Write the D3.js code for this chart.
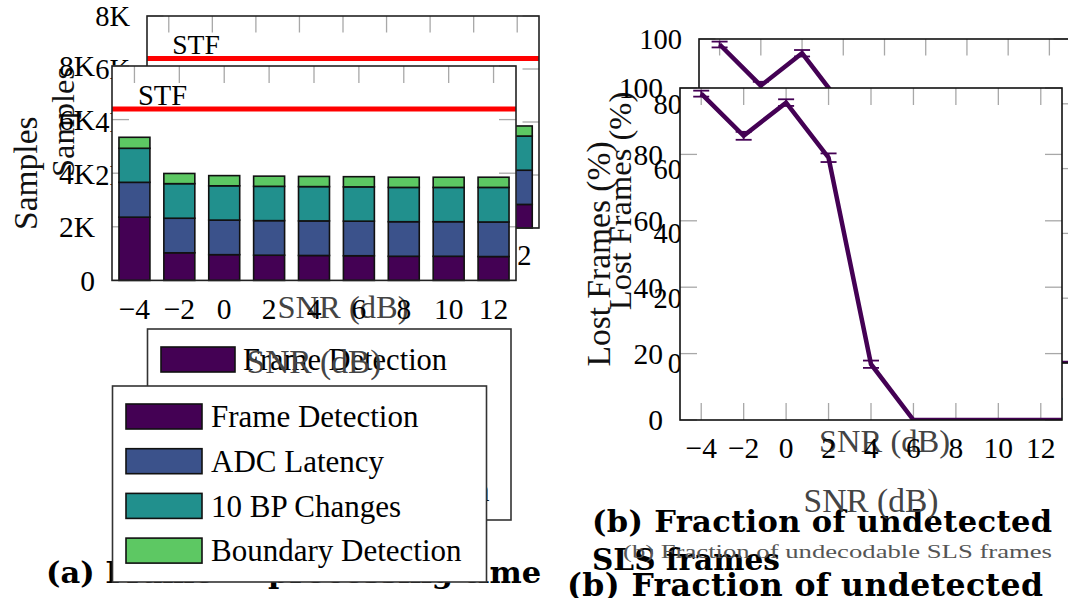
<!DOCTYPE html>
<html>
<head>
<meta charset="utf-8">
<script src="https://cdnjs.cloudflare.com/ajax/libs/d3/7.8.5/d3.min.js"></script>
<style>
  body { margin: 0; background: #fff; }
  svg { display: block; }
  text { font-family: "Liberation Serif", "DejaVu Serif", serif; }
  .cap { font-family: "DejaVu Serif", serif; font-weight: bold; }
</style>
</head>
<body>
<div id="chart"></div>
<script>
// processing time per SNR (samples)
var snr = [-4, -2, 0, 2, 4, 6, 8, 10, 12];
var frameDetection = [2360, 1030, 960, 940, 930, 920, 900, 900, 890];
var adcLatency = [1300, 1290, 1290, 1290, 1290, 1290, 1290, 1290, 1290];
var bpChanges = [1270, 1290, 1280, 1280, 1280, 1280, 1280, 1280, 1290];
var boundaryDetection = [410, 380, 380, 380, 380, 380, 380, 380, 380];
var stfSamples = 6400;
var seriesNames = ['Frame Detection', 'ADC Latency', '10 BP Changes', 'Boundary Detection'];
var seriesColors = ['#440154', '#3b528b', '#21908d', '#5dc863'];

// lost frames per SNR (%)
var lossSnr = [-4, -2, 0, 2, 4, 6, 8, 10, 12, 14];
var lostFrames = [98.3, 85.6, 95.6, 79.0, 16.8, 0, 0, 0, 0, 0];
var lostErr = [0.9, 1.2, 1.0, 1.3, 1.1, 0, 0, 0, 0, 0];

var xTicks = [-4, -2, 0, 2, 4, 6, 8, 10, 12];
var samplesTicks = [0, 2000, 4000, 6000, 8000];
var samplesLabels = ['0', '2K', '4K', '6K', '8K'];
var lostTicks = [0, 20, 40, 60, 80, 100];

var W = 1068, H = 598;
var svg = d3.select('#chart').append('svg').attr('width', W).attr('height', H);

var rows = snr.map(function(s, i) {
  return { snr: s, fd: frameDetection[i], adc: adcLatency[i], bp: bpChanges[i], bd: boundaryDetection[i] };
});
var stack = d3.stack().keys(['fd', 'adc', 'bp', 'bd'])(rows);

// the figure shows up twice: a shifted copy behind and the main one in front
var layers = [
  {
    a: { left: 147, right: 539, top: 16, bottom: 228 },
    b: { left: 699, right: 1070, top: 39, bottom: 363 },
    fs: 28.5, lab: 32.5, tick: 16.5, k: 0.97,
    legend: { x: 147.5, y: 329, w: 363.5, h: 191, sw: 74, sh: 25, row: 43.5, first: 18, tx: 95.5, fs: 30.5 },
    capA: { x: 46, y: 583, px: 268 },
    capB: { x: 592, y: 532, len: 460, y2: 570, len2: 188 },
    capFs: 30.5
  },
  {
    a: { left: 112, right: 516, top: 66, bottom: 280.4 },
    b: { left: 680, right: 1062, top: 88, bottom: 420 },
    fs: 29.5, lab: 33.5, tick: 17, k: 1,
    legend: { x: 112.5, y: 386, w: 374, h: 196, sw: 76, sh: 25, row: 44.7, first: 18, tx: 98.5, fs: 31 },
    capA: { x: 12, y: 642, px: 240 },
    capB: { x: 567, y: 596, len: 476, y2: 636, len2: 194 },
    capFs: 31.5
  }
];

function fmtSnr(d) { return d < 0 ? '\u2212' + Math.abs(d) : String(d); }

function drawLayer(L, idx) {
  var g = svg.append('g');

  // ---------- (a) stacked bars ----------
  var A = L.a;
  var xa = d3.scaleLinear().domain([-5, 13]).range([A.left, A.right]);
  var ya = d3.scaleLinear().domain([0, 8000]).range([A.bottom, A.top]);
  var barW = (xa(2) - xa(0)) * 0.69;

  g.append('rect').attr('x', A.left).attr('y', A.top)
    .attr('width', A.right - A.left).attr('height', A.bottom - A.top).attr('fill', '#fff');

  var ticksA = g.append('g').attr('stroke', '#a8a8a8').attr('stroke-width', 1.3);
  xTicks.forEach(function(t) {
    ticksA.append('line').attr('x1', xa(t)).attr('x2', xa(t)).attr('y1', A.top).attr('y2', A.top + L.tick);
    ticksA.append('line').attr('x1', xa(t)).attr('x2', xa(t)).attr('y1', A.bottom).attr('y2', A.bottom - L.tick);
  });
  samplesTicks.forEach(function(t) {
    ticksA.append('line').attr('x1', A.left).attr('x2', A.left + L.tick).attr('y1', ya(t)).attr('y2', ya(t));
    ticksA.append('line').attr('x1', A.right).attr('x2', A.right - L.tick).attr('y1', ya(t)).attr('y2', ya(t));
  });

  g.append('line').attr('x1', A.left).attr('x2', A.right)
    .attr('y1', ya(stfSamples)).attr('y2', ya(stfSamples))
    .attr('stroke', '#ff0000').attr('stroke-width', 5);
  g.append('text').attr('x', A.left + 26 * L.k).attr('y', ya(stfSamples) - 4)
    .attr('font-size', 28.5 * L.k).text('STF');

  stack.forEach(function(s, si) {
    g.append('g').selectAll('rect').data(s).join('rect')
      .attr('x', function(d) { return xa(d.data.snr) - barW / 2; })
      .attr('y', function(d) { return ya(d[1]); })
      .attr('width', barW)
      .attr('height', function(d) { return ya(d[0]) - ya(d[1]); })
      .attr('fill', seriesColors[si])
      .attr('stroke', '#111').attr('stroke-width', 1.6);
  });

  g.append('rect').attr('x', A.left).attr('y', A.top)
    .attr('width', A.right - A.left).attr('height', A.bottom - A.top)
    .attr('fill', 'none').attr('stroke', '#222').attr('stroke-width', 1.6);

  g.append('g').selectAll('text').data(samplesTicks).join('text')
    .attr('x', A.left - 17).attr('y', function(d) { return ya(d); })
    .attr('dy', '0.35em').attr('text-anchor', 'end').attr('font-size', L.fs)
    .text(function(d, i) { return samplesLabels[i]; });
  g.append('g').selectAll('text').data(xTicks).join('text')
    .attr('x', function(d) { return xa(d); }).attr('y', A.bottom + 28 * L.k)
    .attr('dy', '0.35em').attr('text-anchor', 'middle').attr('font-size', L.fs)
    .text(fmtSnr);

  g.append('text').attr('transform', 'translate(' + (A.left - 87 * L.k) + ',' + ((A.top + A.bottom) / 2) + ') rotate(-90)')
    .attr('text-anchor', 'middle').attr('dy', '0.35em').attr('font-size', L.lab).attr('fill', '#111').text('Samples');
  g.append('text').attr('x', (A.left + A.right) / 2).attr('y', A.bottom + 81 * L.k)
    .attr('text-anchor', 'middle').attr('dy', '0.35em').attr('font-size', L.lab).attr('fill', '#444').text('SNR (dB)');

  // legend
  var lg = L.legend;
  var leg = g.append('g').attr('transform', 'translate(' + lg.x + ',' + lg.y + ')');
  leg.append('rect').attr('width', lg.w).attr('height', lg.h)
    .attr('fill', '#fff').attr('stroke', '#333').attr('stroke-width', 1.6);
  seriesNames.forEach(function(name, i) {
    var ry = lg.first + i * lg.row;
    leg.append('rect').attr('x', 13.5).attr('y', ry).attr('width', lg.sw).attr('height', lg.sh)
      .attr('fill', seriesColors[i]).attr('stroke', '#111').attr('stroke-width', 1.6);
    leg.append('text').attr('x', lg.tx).attr('y', ry + lg.sh / 2).attr('dy', '0.35em')
      .attr('font-size', lg.fs).text(name);
  });

  // caption (a) sits under the legend box
  var capA = g.insert('text', function() { return leg.node(); })
    .attr('class', 'cap').attr('y', L.capA.y).attr('font-size', L.capFs);
  capA.append('tspan').attr('x', L.capA.x).text('(a) Frame');
  capA.append('tspan').attr('x', L.capA.px).text('processing time');

  // ---------- (b) lost frames ----------
  var B = L.b;
  var xb = d3.scaleLinear().domain([-5, 13]).range([B.left, B.right]);
  var yb = d3.scaleLinear().domain([0, 100]).range([B.bottom, B.top]);
  var clipId = 'clipb' + idx;
  g.append('clipPath').attr('id', clipId).append('rect')
    .attr('x', B.left).attr('y', B.top).attr('width', B.right - B.left).attr('height', B.bottom - B.top);

  g.append('rect').attr('x', B.left).attr('y', B.top)
    .attr('width', B.right - B.left).attr('height', B.bottom - B.top).attr('fill', '#fff');

  var ticksB = g.append('g').attr('stroke', '#a8a8a8').attr('stroke-width', 1.3);
  xTicks.forEach(function(t) {
    ticksB.append('line').attr('x1', xb(t)).attr('x2', xb(t)).attr('y1', B.top).attr('y2', B.top + L.tick);
    ticksB.append('line').attr('x1', xb(t)).attr('x2', xb(t)).attr('y1', B.bottom).attr('y2', B.bottom - L.tick);
  });
  lostTicks.forEach(function(t) {
    ticksB.append('line').attr('x1', B.left).attr('x2', B.left + L.tick).attr('y1', yb(t)).attr('y2', yb(t));
    ticksB.append('line').attr('x1', B.right).attr('x2', B.right - L.tick).attr('y1', yb(t)).attr('y2', yb(t));
  });

  var plot = g.append('g').attr('clip-path', 'url(#' + clipId + ')');
  var line = d3.line()
    .x(function(d, i) { return xb(lossSnr[i]); })
    .y(function(d) { return yb(d); });
  plot.append('path').datum(lostFrames).attr('d', line)
    .attr('fill', 'none').attr('stroke', '#440154').attr('stroke-width', 4.5)
    .attr('stroke-linejoin', 'miter');
  var eb = plot.append('g').attr('stroke', '#440154').attr('stroke-width', 1.8);
  lostFrames.forEach(function(v, i) {
    if (!lostErr[i]) return;
    var x = xb(lossSnr[i]);
    eb.append('line').attr('x1', x).attr('x2', x).attr('y1', yb(v - lostErr[i])).attr('y2', yb(v + lostErr[i]));
    eb.append('line').attr('x1', x - 8).attr('x2', x + 8).attr('y1', yb(v - lostErr[i])).attr('y2', yb(v - lostErr[i]));
    eb.append('line').attr('x1', x - 8).attr('x2', x + 8).attr('y1', yb(v + lostErr[i])).attr('y2', yb(v + lostErr[i]));
  });

  g.append('rect').attr('x', B.left).attr('y', B.top)
    .attr('width', B.right - B.left).attr('height', B.bottom - B.top)
    .attr('fill', 'none').attr('stroke', '#111').attr('stroke-width', 1.6);

  g.append('g').selectAll('text').data(lostTicks).join('text')
    .attr('x', B.left - 17).attr('y', function(d) { return yb(d); })
    .attr('dy', '0.35em').attr('text-anchor', 'end').attr('font-size', L.fs)
    .text(function(d) { return d; });
  g.append('g').selectAll('text').data(xTicks).join('text')
    .attr('x', function(d) { return xb(d); }).attr('y', B.bottom + 28 * L.k)
    .attr('dy', '0.35em').attr('text-anchor', 'middle').attr('font-size', L.fs)
    .text(fmtSnr);

  g.append('text').attr('transform', 'translate(' + (B.left - 82 * L.k) + ',' + ((B.top + B.bottom) / 2) + ') rotate(-90)')
    .attr('text-anchor', 'middle').attr('dy', '0.35em').attr('font-size', L.lab).attr('fill', '#111').text('Lost Frames (%)');
  g.append('text').attr('x', (B.left + B.right) / 2).attr('y', B.bottom + 80 * L.k)
    .attr('text-anchor', 'middle').attr('dy', '0.35em').attr('font-size', L.lab).attr('fill', '#444').text('SNR (dB)');

  g.append('text').attr('class', 'cap').attr('x', L.capB.x).attr('y', L.capB.y)
    .attr('font-size', L.capFs)
    .attr('textLength', L.capB.len).attr('lengthAdjust', 'spacing')
    .text('(b) Fraction of undetected');
  g.append('text').attr('class', 'cap').attr('x', L.capB.x).attr('y', L.capB.y2)
    .attr('font-size', L.capFs)
    .attr('textLength', L.capB.len2).attr('lengthAdjust', 'spacingAndGlyphs')
    .text('SLS frames');
}

layers.forEach(drawLayer);

// small sub-caption left over from the original figure
svg.append('text').attr('x', 623).attr('y', 558)
  .attr('font-family', 'DejaVu Serif').attr('font-size', 18.5).attr('fill', '#555')
  .attr('textLength', 429).attr('lengthAdjust', 'spacingAndGlyphs')
  .text('(b) Fraction of undecodable SLS frames');
</script>
</body>
</html>
